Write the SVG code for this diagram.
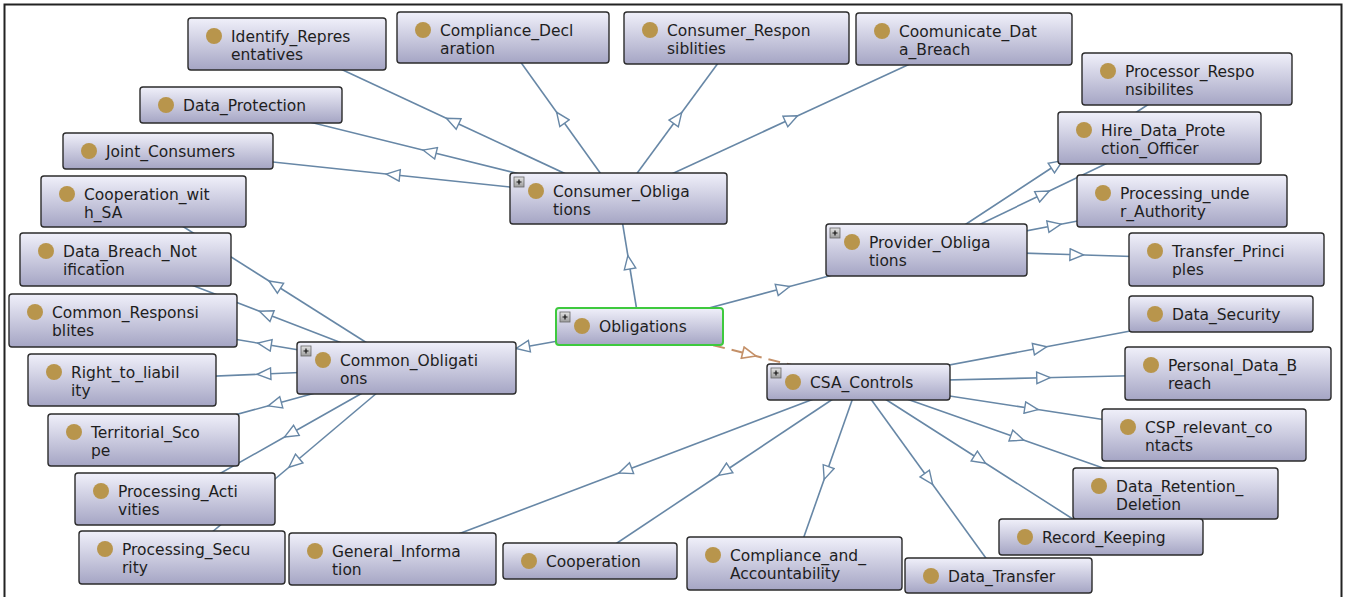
<svg xmlns="http://www.w3.org/2000/svg" xmlns:xlink="http://www.w3.org/1999/xlink" width="1345" height="597" viewBox="0 0 1345 597">
<style>
.box{fill:url(#g);stroke:#2b2b2b;stroke-width:1.4}
.sel{fill:url(#g);stroke:#3ec93e;stroke-width:2}
.dot{fill:#b8954c}
.t{font-family:"DejaVu Sans",sans-serif;font-size:15.5px;fill:#1e1e1e}
.e{fill:none;stroke:#6787a6;stroke-width:1.6;marker-mid:url(#tri)}
.d{fill:none;stroke:#c49068;stroke-width:2;stroke-dasharray:12 7;marker-mid:url(#trib)}
.frame{fill:none;stroke:#222;stroke-width:2}
</style>
<defs>
<linearGradient id="g" x1="0" y1="0" x2="0" y2="1">
<stop offset="0" stop-color="#f0f0fa"/>
<stop offset="1" stop-color="#a5a5c4"/>
</linearGradient>
<linearGradient id="gi" x1="0" y1="0" x2="0" y2="1">
<stop offset="0" stop-color="#e4e4e4"/>
<stop offset="1" stop-color="#9c9c9c"/>
</linearGradient>
<marker id="tri" viewBox="-8 -7 16 14" refX="0" refY="0" markerWidth="16" markerHeight="14" markerUnits="userSpaceOnUse" orient="auto">
<path d="M7,0 L-6.5,-5.8 L-6.5,5.8 Z" fill="#fff" stroke="#6787a6" stroke-width="1.4"/>
</marker>
<marker id="trib" viewBox="-8 -7 16 14" refX="0" refY="0" markerWidth="16" markerHeight="14" markerUnits="userSpaceOnUse" orient="auto">
<path d="M7,0 L-6.5,-5.8 L-6.5,5.8 Z" fill="#fff" stroke="#c49068" stroke-width="1.6"/>
</marker>
<g id="plus">
<rect x="0" y="0" width="10" height="10" fill="url(#gi)" stroke="#666" stroke-width="0.8"/>
<path d="M2.5,5 H7.5 M5,2.5 V7.5" stroke="#111" stroke-width="1.2"/>
</g>
</defs>
<rect width="1345" height="597" fill="#fff"/>
<path class="frame" d="M4.5,600 V4.5 H1341.5 V600"/>
<g id="connectors">
<path class="e" d="M639.5,326.5 L629,262.5 L618.5,198.5"/>
<path class="e" d="M639.5,326.5 L783,288.25 L926.5,250"/>
<path class="e" d="M639.5,326.5 L523,347.25 L406.5,368"/>
<path class="d" d="M639.5,326.5 L749,354.25 L858.5,382"/>
<path class="e" d="M618.5,198.5 L452.75,121.25 L287,44"/>
<path class="e" d="M618.5,198.5 L560.75,118 L503,37.5"/>
<path class="e" d="M618.5,198.5 L677.5,118.25 L736.5,38"/>
<path class="e" d="M618.5,198.5 L791.25,118.75 L964,39"/>
<path class="e" d="M618.5,198.5 L429.75,151.75 L241,105"/>
<path class="e" d="M618.5,198.5 L393.25,174.75 L168,151"/>
<path class="e" d="M926.5,250 L1056.75,164.5 L1187,79"/>
<path class="e" d="M926.5,250 L1043,194 L1159.5,138"/>
<path class="e" d="M926.5,250 L1054.25,225.5 L1182,201"/>
<path class="e" d="M926.5,250 L1076.5,254.75 L1226.5,259.5"/>
<path class="e" d="M406.5,368 L275,284.75 L143.5,201.5"/>
<path class="e" d="M406.5,368 L266,313.75 L125.5,259.5"/>
<path class="e" d="M406.5,368 L264.75,344.25 L123,320.5"/>
<path class="e" d="M406.5,368 L264.25,374 L122,380"/>
<path class="e" d="M406.5,368 L275,404 L143.5,440"/>
<path class="e" d="M406.5,368 L290.75,433.5 L175,499"/>
<path class="e" d="M406.5,368 L294.25,462.75 L182,557.5"/>
<path class="e" d="M858.5,382 L1039.75,348 L1221,314"/>
<path class="e" d="M858.5,382 L1043.25,377.75 L1228,373.5"/>
<path class="e" d="M858.5,382 L1031.25,408.5 L1204,435"/>
<path class="e" d="M858.5,382 L1017,437.75 L1175.5,493.5"/>
<path class="e" d="M858.5,382 L979.75,459.5 L1101,537"/>
<path class="e" d="M858.5,382 L928.5,478.75 L998.5,575.5"/>
<path class="e" d="M858.5,382 L826.5,472.75 L794.5,563.5"/>
<path class="e" d="M858.5,382 L724.25,471.5 L590,561"/>
<path class="e" d="M858.5,382 L625.5,470.5 L392.5,559"/>
</g>
<g id="n-identify-representatives"><rect class="box" x="188" y="18" width="198" height="52" rx="3"/><circle class="dot" cx="214" cy="36" r="8"/><text class="t" x="231" y="42">Identify_Repres<tspan x="231" dy="18">entatives</tspan></text></g>
<g id="n-compliance-declaration"><rect class="box" x="397" y="12" width="212" height="51" rx="3"/><circle class="dot" cx="423" cy="30" r="8"/><text class="t" x="440" y="36">Compliance_Decl<tspan x="440" dy="18">aration</tspan></text></g>
<g id="n-consumer-responsiblities"><rect class="box" x="624" y="12" width="225" height="52" rx="3"/><circle class="dot" cx="650" cy="30" r="8"/><text class="t" x="667" y="36">Consumer_Respon<tspan x="667" dy="18">siblities</tspan></text></g>
<g id="n-coomunicate-data-breach"><rect class="box" x="856" y="13" width="216" height="52" rx="3"/><circle class="dot" cx="882" cy="31" r="8"/><text class="t" x="899" y="37">Coomunicate_Dat<tspan x="899" dy="18">a_Breach</tspan></text></g>
<g id="n-data-protection"><rect class="box" x="140" y="87" width="202" height="36" rx="3"/><circle class="dot" cx="166" cy="105" r="8"/><text class="t" x="183" y="111">Data_Protection</text></g>
<g id="n-joint-consumers"><rect class="box" x="63" y="133" width="210" height="36" rx="3"/><circle class="dot" cx="89" cy="151" r="8"/><text class="t" x="106" y="157">Joint_Consumers</text></g>
<g id="n-cooperation-with-sa"><rect class="box" x="41" y="176" width="205" height="51" rx="3"/><circle class="dot" cx="67" cy="194" r="8"/><text class="t" x="84" y="200">Cooperation_wit<tspan x="84" dy="18">h_SA</tspan></text></g>
<g id="n-consumer-obligations"><rect class="box" x="510" y="173" width="217" height="51" rx="3"/><use xlink:href="#plus" x="514" y="177"/><circle class="dot" cx="536" cy="191" r="8"/><text class="t" x="553" y="197">Consumer_Obliga<tspan x="553" dy="18">tions</tspan></text></g>
<g id="n-processor-responsibilites"><rect class="box" x="1082" y="53" width="210" height="52" rx="3"/><circle class="dot" cx="1108" cy="71" r="8"/><text class="t" x="1125" y="77">Processor_Respo<tspan x="1125" dy="18">nsibilites</tspan></text></g>
<g id="n-hire-data-protection-officer"><rect class="box" x="1058" y="112" width="203" height="52" rx="3"/><circle class="dot" cx="1084" cy="130" r="8"/><text class="t" x="1101" y="136">Hire_Data_Prote<tspan x="1101" dy="18">ction_Officer</tspan></text></g>
<g id="n-processing-under-authority"><rect class="box" x="1077" y="175" width="210" height="52" rx="3"/><circle class="dot" cx="1103" cy="193" r="8"/><text class="t" x="1120" y="199">Processing_unde<tspan x="1120" dy="18">r_Authority</tspan></text></g>
<g id="n-transfer-principles"><rect class="box" x="1129" y="233" width="195" height="53" rx="3"/><circle class="dot" cx="1155" cy="251" r="8"/><text class="t" x="1172" y="257">Transfer_Princi<tspan x="1172" dy="18">ples</tspan></text></g>
<g id="n-provider-obligations"><rect class="box" x="826" y="224" width="201" height="52" rx="3"/><use xlink:href="#plus" x="830" y="228"/><circle class="dot" cx="852" cy="242" r="8"/><text class="t" x="869" y="248">Provider_Obliga<tspan x="869" dy="18">tions</tspan></text></g>
<g id="n-data-breach-notification"><rect class="box" x="20" y="233" width="211" height="53" rx="3"/><circle class="dot" cx="46" cy="251" r="8"/><text class="t" x="63" y="257">Data_Breach_Not<tspan x="63" dy="18">ification</tspan></text></g>
<g id="n-common-responsiblites"><rect class="box" x="9" y="294" width="228" height="53" rx="3"/><circle class="dot" cx="35" cy="312" r="8"/><text class="t" x="52" y="318">Common_Responsi<tspan x="52" dy="18">blites</tspan></text></g>
<g id="n-right-to-liability"><rect class="box" x="28" y="354" width="188" height="52" rx="3"/><circle class="dot" cx="54" cy="372" r="8"/><text class="t" x="71" y="378">Right_to_liabil<tspan x="71" dy="18">ity</tspan></text></g>
<g id="n-common-obligations"><rect class="box" x="297" y="342" width="219" height="52" rx="3"/><use xlink:href="#plus" x="301" y="346"/><circle class="dot" cx="323" cy="360" r="8"/><text class="t" x="340" y="366">Common_Obligati<tspan x="340" dy="18">ons</tspan></text></g>
<g id="n-obligations"><rect class="sel" x="556" y="308" width="167" height="37" rx="3"/><use xlink:href="#plus" x="560" y="312"/><circle class="dot" cx="582" cy="326" r="8"/><text class="t" x="599" y="332">Obligations</text></g>
<g id="n-csa-controls"><rect class="box" x="767" y="364" width="183" height="36" rx="3"/><use xlink:href="#plus" x="771" y="368"/><circle class="dot" cx="793" cy="382" r="8"/><text class="t" x="810" y="388">CSA_Controls</text></g>
<g id="n-data-security"><rect class="box" x="1129" y="296" width="184" height="36" rx="3"/><circle class="dot" cx="1155" cy="314" r="8"/><text class="t" x="1172" y="320">Data_Security</text></g>
<g id="n-personal-data-breach"><rect class="box" x="1125" y="347" width="206" height="53" rx="3"/><circle class="dot" cx="1151" cy="365" r="8"/><text class="t" x="1168" y="371">Personal_Data_B<tspan x="1168" dy="18">reach</tspan></text></g>
<g id="n-csp-relevant-contacts"><rect class="box" x="1102" y="409" width="204" height="52" rx="3"/><circle class="dot" cx="1128" cy="427" r="8"/><text class="t" x="1145" y="433">CSP_relevant_co<tspan x="1145" dy="18">ntacts</tspan></text></g>
<g id="n-data-retention-deletion"><rect class="box" x="1073" y="468" width="205" height="51" rx="3"/><circle class="dot" cx="1099" cy="486" r="8"/><text class="t" x="1116" y="492">Data_Retention_<tspan x="1116" dy="18">Deletion</tspan></text></g>
<g id="n-record-keeping"><rect class="box" x="999" y="519" width="204" height="36" rx="3"/><circle class="dot" cx="1025" cy="537" r="8"/><text class="t" x="1042" y="543">Record_Keeping</text></g>
<g id="n-data-transfer"><rect class="box" x="905" y="558" width="187" height="35" rx="3"/><circle class="dot" cx="931" cy="576" r="8"/><text class="t" x="948" y="582">Data_Transfer</text></g>
<g id="n-compliance-and-accountability"><rect class="box" x="687" y="537" width="215" height="53" rx="3"/><circle class="dot" cx="713" cy="555" r="8"/><text class="t" x="730" y="561">Compliance_and_<tspan x="730" dy="18">Accountability</tspan></text></g>
<g id="n-cooperation"><rect class="box" x="503" y="543" width="174" height="36" rx="3"/><circle class="dot" cx="529" cy="561" r="8"/><text class="t" x="546" y="567">Cooperation</text></g>
<g id="n-general-information"><rect class="box" x="289" y="533" width="207" height="52" rx="3"/><circle class="dot" cx="315" cy="551" r="8"/><text class="t" x="332" y="557">General_Informa<tspan x="332" dy="18">tion</tspan></text></g>
<g id="n-processing-security"><rect class="box" x="79" y="531" width="206" height="53" rx="3"/><circle class="dot" cx="105" cy="549" r="8"/><text class="t" x="122" y="555">Processing_Secu<tspan x="122" dy="18">rity</tspan></text></g>
<g id="n-processing-activities"><rect class="box" x="75" y="473" width="200" height="52" rx="3"/><circle class="dot" cx="101" cy="491" r="8"/><text class="t" x="118" y="497">Processing_Acti<tspan x="118" dy="18">vities</tspan></text></g>
<g id="n-territorial-scope"><rect class="box" x="48" y="414" width="191" height="52" rx="3"/><circle class="dot" cx="74" cy="432" r="8"/><text class="t" x="91" y="438">Territorial_Sco<tspan x="91" dy="18">pe</tspan></text></g>
</svg>
